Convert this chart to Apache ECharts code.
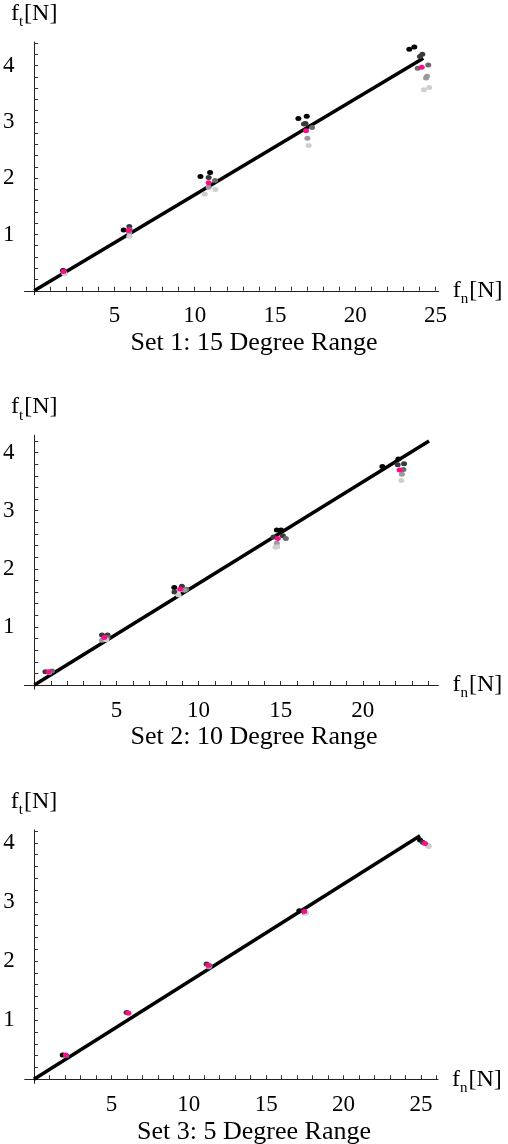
<!DOCTYPE html>
<html>
<head>
<meta charset="utf-8">
<script src="https://cdn.jsdelivr.net/npm/echarts@6/dist/echarts.min.js"></script>
<style>
  html, body { margin: 0; padding: 0; background: #fff; }
  #chart { width: 508px; height: 1144px; }
</style>
</head>
<body>
<div id="chart"></div>
<script>
// tick labels
const xLabels1 = [5, 10, 15, 20, 25]
const xLabels2 = [5, 10, 15, 20]
const xLabels3 = [5, 10, 15, 20, 25]
const yLabels = [1, 2, 3, 4]
const captions = ['Set 1: 15 Degree Range', 'Set 2: 10 Degree Range', 'Set 3: 5 Degree Range']

// Set 1 (15 degree range)
const set1Black = [[1.80, 0.36], [5.58, 1.08], [10.36, 2.03], [10.96, 2.10], [16.46, 3.06], [16.98, 3.10], [23.37, 4.29], [23.68, 4.33]]
const set1Dark = [[1.85, 0.35], [5.93, 1.14], [10.87, 2.01], [16.81, 2.96], [16.90, 2.97], [24.18, 4.20], [24.03, 4.16]]
const set1Mid = [[5.95, 1.09], [11.27, 1.96], [17.31, 2.90], [23.89, 3.95], [24.55, 4.01]]
const set1Grey = [[1.87, 0.31], [5.93, 1.03], [10.87, 1.84], [17.02, 2.71], [24.41, 3.78], [24.47, 3.81]]
const set1Light = [[1.90, 0.30], [5.93, 0.97], [10.63, 1.72], [11.29, 1.80], [17.10, 2.58], [24.28, 3.57], [24.61, 3.61]]
const set1Mean = [[1.83, 0.34], [5.89, 1.07], [10.87, 1.92], [16.94, 2.84], [24.14, 3.97]]
const set1Fit = [[0, 0], [24.24, 4.13]]

// Set 2 (10 degree range)
const set2Black = [[8.52, 1.68], [14.76, 2.67], [15.02, 2.67], [21.19, 3.76], [22.16, 3.89]]
const set2Dark = [[0.67, 0.23], [4.12, 0.86], [4.46, 0.86], [8.98, 1.70], [8.53, 1.60], [14.56, 2.55], [15.13, 2.57], [22.12, 3.79], [22.51, 3.81]]
const set2Mid = [[1.08, 0.24], [4.46, 0.82], [9.25, 1.65], [15.31, 2.52], [22.47, 3.71]]
const set2Grey = [[0.90, 0.21], [4.12, 0.77], [9.15, 1.63], [14.76, 2.44], [22.38, 3.63]]
const set2Light = [[4.38, 0.78], [8.78, 1.55], [14.68, 2.37], [14.78, 2.38], [22.34, 3.52]]
const set2Mean = [[0.87, 0.23], [4.26, 0.82], [8.88, 1.65], [14.82, 2.52], [22.24, 3.70]]
const set2Fit = [[0, 0], [24.03, 4.20]]

// Set 3 (5 degree range)
const set3Black = [[1.86, 0.41], [17.14, 2.85], [24.94, 4.05]]
const set3Dark = [[5.98, 1.13], [11.15, 1.95], [25.11, 4.01]]
const set3Mid = [[2.10, 0.40], [11.35, 1.92], [17.50, 2.82]]
const set3Grey = [[11.30, 1.90], [25.47, 3.95]]
const set3Light = [[6.15, 1.11], [17.57, 2.81], [25.50, 3.94]]
const set3Mean = [[2.05, 0.41], [6.09, 1.12], [11.26, 1.93], [17.46, 2.84], [25.26, 3.99]]
const set3Fit = [[0, 0], [24.94, 4.12]]

const serif = 'Liberation Serif'
const range = (a, b, step) => {
  const out = []
  for (let v = a; v <= b + 1e-9; v += step) out.push(+v.toFixed(2))
  return out
}

const chart = echarts.init(document.getElementById('chart'), null, { renderer: 'canvas' })

const nameRich = {
  b: { fontFamily: serif, fontSize: 24, color: '#000', lineHeight: 24, verticalAlign: 'top' },
  s: { fontFamily: serif, fontSize: 15, color: '#000', lineHeight: 15, verticalAlign: 'top', padding: [13, 1, 0, 0] }
}

// pixel layout per panel, y min slightly below zero so the y axis pokes under the x axis
const panels = [
  { grid: { left: 24.4, top: 41.9, width: 414.3, height: 252.8 }, xMax: 25.2, yMin: -0.07, yMax: 4.42, xLabels: xLabels1,
    data: [set1Black, set1Dark, set1Mid, set1Grey, set1Light], mean: set1Mean, fit: set1Fit, capTop: 323 },
  { grid: { left: 24.1, top: 435.2, width: 414.3, height: 253.9 }, xMax: 24.6, yMin: -0.07, yMax: 4.30, xLabels: xLabels2,
    data: [set2Black, set2Dark, set2Mid, set2Grey, set2Light], mean: set2Mean, fit: set2Fit, capTop: 717 },
  { grid: { left: 24.7, top: 829.9, width: 413.3, height: 253.5 }, xMax: 26.1, yMin: -0.07, yMax: 4.22, xLabels: xLabels3,
    data: [set3Black, set3Dark, set3Mid, set3Grey, set3Light], mean: set3Mean, fit: set3Fit, capTop: 1112 }
]
const shades = ['#000000', '#3a3a3a', '#6a6a6a', '#9a9a9a', '#cfcfcf']

const option = {
  backgroundColor: '#fff',
  animation: false,
  title: [],
  grid: [],
  xAxis: [],
  yAxis: [],
  series: []
}

panels.forEach((p, i) => {
  option.title.push({
    text: captions[i],
    left: 'center',
    top: p.capTop,
    textStyle: { fontFamily: serif, fontSize: 26, fontWeight: 'normal', color: '#000', lineHeight: 30 }
  })
  option.grid.push(Object.assign({ containLabel: false }, p.grid))
  option.xAxis.push({
    type: 'value',
    gridIndex: i,
    min: -0.6,
    max: p.xMax,
    name: '{b|f}{s|n}{b|[N]}',
    nameLocation: 'end',
    nameGap: 14,
    nameTextStyle: { rich: nameRich, align: 'left', verticalAlign: 'middle' },
    axisLine: { onZero: true, lineStyle: { color: '#222', width: 1 } },
    axisTick: { show: true, inside: true, length: 4, customValues: range(1, Math.floor(p.xMax), 1), lineStyle: { color: '#333', width: 1 } },
    axisLabel: { customValues: p.xLabels, margin: 10, fontFamily: serif, fontSize: 23, color: '#000' },
    splitLine: { show: false }
  })
  option.yAxis.push({
    type: 'value',
    gridIndex: i,
    min: p.yMin,
    max: p.yMax,
    name: '{b|f}{s|t}{b|[N]}',
    nameLocation: 'end',
    nameGap: 16,
    nameTextStyle: { rich: nameRich, align: 'center', verticalAlign: 'bottom' },
    axisLine: { onZero: true, lineStyle: { color: '#222', width: 1 } },
    axisTick: { show: true, inside: true, length: 4, customValues: range(0.2, p.yMax, 0.2), lineStyle: { color: '#333', width: 1 } },
    axisLabel: { customValues: yLabels, margin: 10, fontFamily: serif, fontSize: 23, color: '#000' },
    splitLine: { show: false }
  })
  option.series.push({
    type: 'line',
    xAxisIndex: i,
    yAxisIndex: i,
    data: p.fit,
    showSymbol: false,
    lineStyle: { color: '#000', width: 3.5 },
    z: 2
  })
  p.data.forEach((d, k) => {
    option.series.push({
      type: 'scatter',
      xAxisIndex: i,
      yAxisIndex: i,
      data: d,
      symbol: 'circle',
      symbolSize: [6, 5],
      itemStyle: { color: shades[k], opacity: 1 },
      z: 3
    })
  })
  option.series.push({
    type: 'scatter',
    xAxisIndex: i,
    yAxisIndex: i,
    data: p.mean,
    symbol: 'circle',
    symbolSize: [6, 5],
    itemStyle: { color: '#ff0a8e', opacity: 1 },
    z: 4
  })
})

chart.setOption(option)
</script>
</body>
</html>
